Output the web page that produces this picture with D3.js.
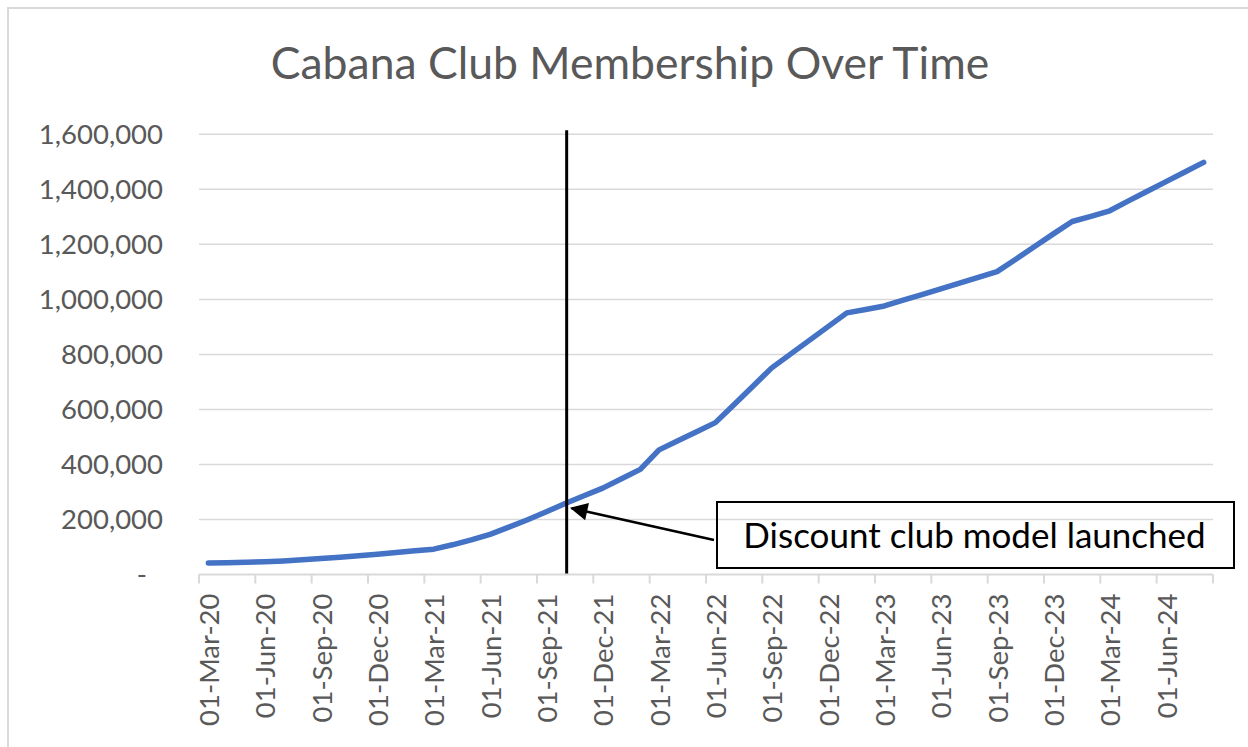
<!DOCTYPE html>
<html>
<head>
<meta charset="utf-8">
<title>Cabana Club Membership Over Time</title>
<script src="https://cdn.jsdelivr.net/npm/d3@7"></script>
<style>
  html, body { margin: 0; padding: 0; background: #fff; }
  #chart { width: 1248px; height: 747px; overflow: hidden; }
  text { font-family: Lato, "Open Sans", sans-serif; }
</style>
</head>
<body>
<div id="chart"></div>
<script>
// ==== Data ====
const firstMonth = "2020-03-01";
const lastMonth = "2024-08-01";

// members at each month, Mar-20 .. Aug-24
const members = [
  42000, 43000, 44500, 46500, 49500, 53500, 58000, 63000, 68000, 74000,
  80000, 86000, 92000, 108000, 126000, 146000, 172000, 199000, 228000, 258000,
  286000, 314000, 348000, 382000, 453000, 486000, 519000, 552000, 618000, 684000,
  751000, 801000, 851000, 901000, 951000, 963000, 976000, 997000, 1017000, 1038000,
  1059000, 1080000, 1101000, 1146000, 1192000, 1238000, 1283000, 1302000, 1322000, 1358000,
  1393000, 1428000, 1463000, 1498000
];

const yTicks = [0, 200000, 400000, 600000, 800000, 1000000, 1200000, 1400000, 1600000];
const xTickLabels = [
  "01-Mar-20", "01-Jun-20", "01-Sep-20", "01-Dec-20", "01-Mar-21", "01-Jun-21",
  "01-Sep-21", "01-Dec-21", "01-Mar-22", "01-Jun-22", "01-Sep-22", "01-Dec-22",
  "01-Mar-23", "01-Jun-23", "01-Sep-23", "01-Dec-23", "01-Mar-24", "01-Jun-24"
];

const titleText = "Cabana Club Membership Over Time";
const launchMonth = "2021-10-01";
const launchLabel = "Discount club model launched";

// ==== Setup ====
const W = 1248, H = 747;
const plot = { left: 199, right: 1213, top: 134.3, bottom: 574.5 };

const parse = d3.timeParse("%Y-%m-%d");
const fmtKey = d3.timeFormat("%Y-%m-%d");
const months = d3.timeMonth.range(parse(firstMonth), d3.timeMonth.offset(parse(lastMonth), 1)).map(fmtKey);
const data = months.map((m, i) => ({ month: m, value: members[i] }));

const svg = d3.select("#chart").append("svg")
  .attr("width", W)
  .attr("height", H);

// chart frame (cropped on right / bottom)
svg.append("rect")
  .attr("x", 8).attr("y", 8)
  .attr("width", W + 20).attr("height", H + 20)
  .attr("fill", "#fff")
  .attr("stroke", "#d9d9d9")
  .attr("stroke-width", 2);

// ==== Scales ====
const x = d3.scaleBand()
  .domain(months)
  .range([plot.left, plot.right])
  .padding(0);

const y = d3.scaleLinear()
  .domain([0, 1600000])
  .range([plot.bottom, plot.top]);

const xc = m => x(m) + x.bandwidth() / 2;

// ==== Title ====
svg.append("text")
  .attr("x", 630).attr("y", 79)
  .attr("text-anchor", "middle")
  .style("font-size", "44.5px")
  .style("fill", "#595959")
  .text(titleText);

// ==== Grid + Y axis ====
svg.append("g")
  .selectAll("line")
  .data(yTicks.filter(d => d > 0))
  .enter().append("line")
    .attr("x1", plot.left).attr("x2", plot.right)
    .attr("y1", d => y(d)).attr("y2", d => y(d))
    .attr("stroke", "#d9d9d9")
    .attr("stroke-width", 1.5);

const fmtNum = d3.format(",");
svg.append("g")
  .selectAll("text")
  .data(yTicks)
  .enter().append("text")
    .attr("x", d => d === 0 ? 147 : 163)
    .attr("y", d => y(d))
    .attr("dy", "0.35em")
    .attr("text-anchor", "end")
    .style("font-size", "27.5px")
    .style("fill", "#595959")
    .text(d => d === 0 ? "-" : fmtNum(d));

// ==== X axis ====
svg.append("line")
  .attr("x1", plot.left).attr("x2", plot.right)
  .attr("y1", plot.bottom).attr("y2", plot.bottom)
  .attr("stroke", "#d9d9d9")
  .attr("stroke-width", 2);

// tick marks every 3 months, on category edges
const tickIdx = d3.range(0, months.length + 1, 3);
svg.append("g")
  .selectAll("line")
  .data(tickIdx)
  .enter().append("line")
    .attr("x1", i => i < months.length ? x(months[i]) : x.range()[1])
    .attr("x2", i => i < months.length ? x(months[i]) : x.range()[1])
    .attr("y1", plot.bottom).attr("y2", plot.bottom + 9)
    .attr("stroke", "#d9d9d9")
    .attr("stroke-width", 2);

svg.append("g")
  .selectAll("text")
  .data(xTickLabels)
  .enter().append("text")
    .attr("transform", (d, i) => `translate(${xc(months[i * 3]) + 1},${plot.bottom + 19}) rotate(-90)`)
    .attr("dy", "0.35em")
    .attr("text-anchor", "end")
    .style("font-size", "27.5px")
    .style("fill", "#595959")
    .text(d => d);

// ==== Line ====
const line = d3.line()
  .x(d => xc(d.month))
  .y(d => y(d.value));

svg.append("path")
  .datum(data)
  .attr("fill", "none")
  .attr("stroke", "#4472c4")
  .attr("stroke-width", 5.5)
  .attr("stroke-linejoin", "round")
  .attr("stroke-linecap", "round")
  .attr("d", line);

// ==== Launch marker + callout ====
const lx = xc(launchMonth) + 1.5;
svg.append("line")
  .attr("x1", lx).attr("x2", lx)
  .attr("y1", y(1615000)).attr("y2", plot.bottom - 1)
  .attr("stroke", "#000")
  .attr("stroke-width", 3);

svg.append("defs").append("marker")
  .attr("id", "arrow")
  .attr("viewBox", "0 0 10 10")
  .attr("refX", 9).attr("refY", 5)
  .attr("markerWidth", 9).attr("markerHeight", 7)
  .attr("markerUnits", "strokeWidth")
  .attr("orient", "auto")
  .append("path")
    .attr("d", "M0,0 L10,5 L0,10 Z")
    .attr("fill", "#000");

const box = { x: 717, y: 502, w: 517, h: 66 };

svg.append("line")
  .attr("x1", box.x - 3).attr("y1", box.y + 38)
  .attr("x2", lx + 5).attr("y2", y(241000))
  .attr("stroke", "#000")
  .attr("stroke-width", 2.5)
  .attr("marker-end", "url(#arrow)");

svg.append("rect")
  .attr("x", box.x).attr("y", box.y)
  .attr("width", box.w).attr("height", box.h)
  .attr("fill", "none")
  .attr("stroke", "#000")
  .attr("stroke-width", 2);

svg.append("text")
  .attr("x", box.x + box.w / 2 - 1).attr("y", box.y + box.h / 2 + 1)
  .attr("dy", "0.35em")
  .attr("text-anchor", "middle")
  .style("font-size", "35px")
  .style("fill", "#000")
  .text(launchLabel);
</script>
</body>
</html>
